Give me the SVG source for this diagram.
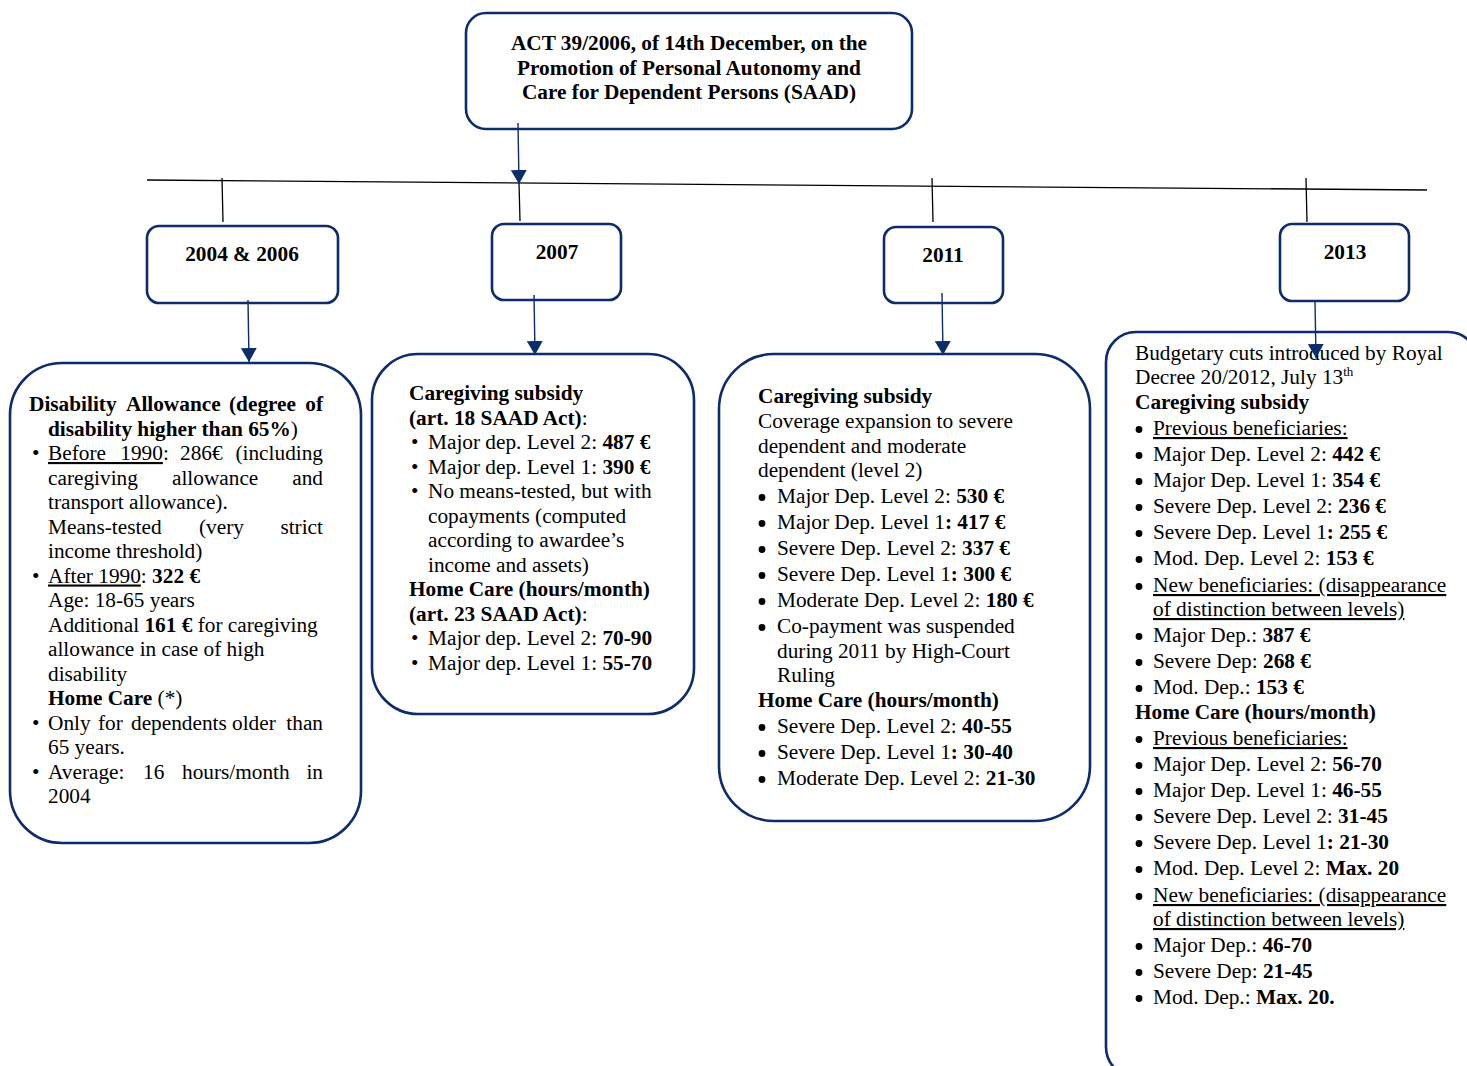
<svg xmlns="http://www.w3.org/2000/svg" width="1467" height="1066" viewBox="0 0 1467 1066">
<style>
text{font-family:"Liberation Serif","Times New Roman",serif;font-size:21.3px;fill:#000}
.b{font-weight:bold}
.c{text-anchor:middle}
.e{text-anchor:end}
.u{text-decoration:underline}
.bx{fill:#fff;stroke:#0c2c6c;stroke-width:2.6}
.tl{stroke:#000;stroke-width:1.3;fill:none}
.ar{stroke:#0c2c6c;stroke-width:1.4;fill:none;marker-end:url(#ah)}
.dot{fill:#000}
</style>
<defs>
<marker id="ah" viewBox="0 0 14 16" refX="14" refY="8" markerWidth="14" markerHeight="16" markerUnits="userSpaceOnUse" orient="auto">
<path d="M0,0 L14,8 L0,16 z" fill="#0c2c6c"/>
</marker>
</defs>

<g id="act">
<rect class="bx" x="466" y="13" width="446" height="116" rx="20"/>
<text class="b c" x="689" y="50">ACT 39/2006, of 14th December, on the</text>
<text class="b c" x="689" y="75">Promotion of Personal Autonomy and</text>
<text class="b c" x="689" y="99">Care for Dependent Persons (SAAD)</text>
</g>

<g id="y2004">
<rect class="bx" x="147" y="226" width="191" height="77" rx="12"/>
<text class="b c" x="242" y="261">2004 &amp; 2006</text>
</g>
<g id="y2007">
<rect class="bx" x="492" y="224" width="129" height="76" rx="12"/>
<text class="b c" x="557" y="259">2007</text>
</g>
<g id="y2011">
<rect class="bx" x="884" y="227" width="119" height="76" rx="12"/>
<text class="b c" x="943" y="262">2011</text>
</g>
<g id="y2013">
<rect class="bx" x="1280" y="224" width="129" height="77" rx="12"/>
<text class="b c" x="1345" y="259">2013</text>
</g>

<g id="box2004">
<rect class="bx" x="10" y="363" width="351" height="480" rx="52"/>
<text class="b" y="411"><tspan x="29">Disability</tspan><tspan x="126">Allowance</tspan><tspan x="229">(degree</tspan></text>
<text class="b e" x="323" y="411">of</text>
<text x="48" y="435.5"><tspan class="b">disability higher than 65%</tspan>)</text>
<text x="32" y="460">•</text>
<text y="460"><tspan x="48" class="u" style="word-spacing:9px">Before 1990</tspan>:<tspan x="180">286€</tspan></text>
<text class="e" x="323" y="460">(including</text>
<text y="484.5"><tspan x="48">caregiving</tspan><tspan x="172">allowance</tspan></text>
<text class="e" x="323" y="484.5">and</text>
<text x="48" y="509">transport allowance).</text>
<text y="533.5"><tspan x="48">Means-tested</tspan><tspan x="199">(very</tspan></text>
<text class="e" x="323" y="533.5">strict</text>
<text x="48" y="558">income threshold)</text>
<text x="32" y="582.5">•</text>
<text x="48" y="582.5"><tspan class="u">After 1990</tspan>: <tspan class="b">322 €</tspan></text>
<text x="48" y="607">Age: 18-65 years</text>
<text x="48" y="631.5">Additional <tspan class="b">161 €</tspan> for caregiving</text>
<text x="48" y="656">allowance in case of high</text>
<text x="48" y="680.5">disability</text>
<text x="48" y="705"><tspan class="b">Home Care</tspan> (*)</text>
<text x="32" y="729.5">•</text>
<text y="729.5"><tspan x="48">Only</tspan><tspan x="98">for</tspan><tspan x="131">dependents</tspan><tspan x="232">older</tspan></text>
<text class="e" x="323" y="729.5">than</text>
<text x="48" y="754">65 years.</text>
<text x="32" y="778.5">•</text>
<text y="778.5"><tspan x="48">Average:</tspan><tspan x="143">16</tspan><tspan x="182">hours/month</tspan></text>
<text class="e" x="323" y="778.5">in</text>
<text x="48" y="803">2004</text>
</g>

<g id="box2007">
<rect class="bx" x="372" y="354" width="322" height="360" rx="46"/>
<text class="b" x="409" y="400">Caregiving subsidy</text>
<text x="409" y="424.5"><tspan class="b">(art. 18 SAAD Act)</tspan>:</text>
<text x="411" y="449">•</text>
<text x="428" y="449">Major dep. Level 2: <tspan class="b">487 €</tspan></text>
<text x="411" y="473.5">•</text>
<text x="428" y="473.5">Major dep. Level 1: <tspan class="b">390 €</tspan></text>
<text x="411" y="498">•</text>
<text x="428" y="498">No means-tested, but with</text>
<text x="428" y="522.5">copayments (computed</text>
<text x="428" y="547">according to awardee’s</text>
<text x="428" y="571.5">income and assets)</text>
<text class="b" x="409" y="596">Home Care (hours/month)</text>
<text x="409" y="620.5"><tspan class="b">(art. 23 SAAD Act)</tspan>:</text>
<text x="411" y="645">•</text>
<text x="428" y="645">Major dep. Level 2: <tspan class="b">70-90</tspan></text>
<text x="411" y="669.5">•</text>
<text x="428" y="669.5">Major dep. Level 1: <tspan class="b">55-70</tspan></text>
</g>

<g id="box2011">
<rect class="bx" x="719" y="354" width="371" height="467" rx="55"/>
<text class="b" x="758" y="403">Caregiving subsidy</text>
<text x="758" y="428">Coverage expansion to severe</text>
<text x="758" y="453">dependent and moderate</text>
<text x="758" y="477">dependent (level 2)</text>
<g class="dot">
<circle cx="762" cy="497.5" r="3.4"/>
<circle cx="762" cy="523.5" r="3.4"/>
<circle cx="762" cy="549.5" r="3.4"/>
<circle cx="762" cy="575.5" r="3.4"/>
<circle cx="762" cy="601.5" r="3.4"/>
<circle cx="762" cy="627.5" r="3.4"/>
<circle cx="762" cy="727.5" r="3.4"/>
<circle cx="762" cy="753.5" r="3.4"/>
<circle cx="762" cy="779.5" r="3.4"/>
</g>
<text x="777" y="503">Major Dep. Level 2: <tspan class="b">530 €</tspan></text>
<text x="777" y="529">Major Dep. Level 1<tspan class="b">: 417 €</tspan></text>
<text x="777" y="555">Severe Dep. Level 2: <tspan class="b">337 €</tspan></text>
<text x="777" y="581">Severe Dep. Level 1<tspan class="b">: 300 €</tspan></text>
<text x="777" y="607">Moderate Dep. Level 2: <tspan class="b">180 €</tspan></text>
<text x="777" y="633">Co-payment was suspended</text>
<text x="777" y="658">during 2011 by High-Court</text>
<text x="777" y="682">Ruling</text>
<text class="b" x="758" y="707">Home Care (hours/month)</text>
<text x="777" y="733">Severe Dep. Level 2: <tspan class="b">40-55</tspan></text>
<text x="777" y="759">Severe Dep. Level 1<tspan class="b">: 30-40</tspan></text>
<text x="777" y="785">Moderate Dep. Level 2: <tspan class="b">21-30</tspan></text>
</g>

<g id="box2013">
<rect class="bx" x="1106" y="332" width="372" height="745" rx="30"/>
<text x="1135" y="360">Budgetary cuts introduced by Royal</text>
<text x="1135" y="384">Decree 20/2012, July 13<tspan font-size="13" dy="-8">th</tspan></text>
<text class="b" x="1135" y="409">Caregiving subsidy</text>
<g class="dot">
<circle cx="1139" cy="429.5" r="3.4"/>
<circle cx="1139" cy="455.5" r="3.4"/>
<circle cx="1139" cy="481.5" r="3.4"/>
<circle cx="1139" cy="507.5" r="3.4"/>
<circle cx="1139" cy="533.5" r="3.4"/>
<circle cx="1139" cy="559.5" r="3.4"/>
<circle cx="1139" cy="586.5" r="3.4"/>
<circle cx="1139" cy="636.5" r="3.4"/>
<circle cx="1139" cy="662.5" r="3.4"/>
<circle cx="1139" cy="688.5" r="3.4"/>
<circle cx="1139" cy="739.5" r="3.4"/>
<circle cx="1139" cy="765.5" r="3.4"/>
<circle cx="1139" cy="791.5" r="3.4"/>
<circle cx="1139" cy="817.5" r="3.4"/>
<circle cx="1139" cy="843.5" r="3.4"/>
<circle cx="1139" cy="869.5" r="3.4"/>
<circle cx="1139" cy="896.5" r="3.4"/>
<circle cx="1139" cy="946.5" r="3.4"/>
<circle cx="1139" cy="972.5" r="3.4"/>
<circle cx="1139" cy="998.5" r="3.4"/>
</g>
<text x="1153" y="435" class="u">Previous beneficiaries:</text>
<text x="1153" y="461">Major Dep. Level 2: <tspan class="b">442 €</tspan></text>
<text x="1153" y="487">Major Dep. Level 1: <tspan class="b">354 €</tspan></text>
<text x="1153" y="513">Severe Dep. Level 2: <tspan class="b">236 €</tspan></text>
<text x="1153" y="539">Severe Dep. Level 1<tspan class="b">: 255 €</tspan></text>
<text x="1153" y="565">Mod. Dep. Level 2: <tspan class="b">153 €</tspan></text>
<text x="1153" y="592" class="u">New beneficiaries: (disappearance</text>
<text x="1153" y="616" class="u">of distinction between levels)</text>
<text x="1153" y="642">Major Dep.: <tspan class="b">387 €</tspan></text>
<text x="1153" y="668">Severe Dep: <tspan class="b">268 €</tspan></text>
<text x="1153" y="694">Mod. Dep.: <tspan class="b">153 €</tspan></text>
<text class="b" x="1135" y="719">Home Care (hours/month)</text>
<text x="1153" y="745" class="u">Previous beneficiaries:</text>
<text x="1153" y="771">Major Dep. Level 2: <tspan class="b">56-70</tspan></text>
<text x="1153" y="797">Major Dep. Level 1: <tspan class="b">46-55</tspan></text>
<text x="1153" y="823">Severe Dep. Level 2: <tspan class="b">31-45</tspan></text>
<text x="1153" y="849">Severe Dep. Level 1<tspan class="b">: 21-30</tspan></text>
<text x="1153" y="875">Mod. Dep. Level 2: <tspan class="b">Max. 20</tspan></text>
<text x="1153" y="902" class="u">New beneficiaries: (disappearance</text>
<text x="1153" y="926" class="u">of distinction between levels)</text>
<text x="1153" y="952">Major Dep.: <tspan class="b">46-70</tspan></text>
<text x="1153" y="978">Severe Dep: <tspan class="b">21-45</tspan></text>
<text x="1153" y="1004">Mod. Dep.: <tspan class="b">Max. 20.</tspan></text>
</g>

<g id="connectors">
<line class="tl" x1="147" y1="180" x2="1427" y2="190"/>
<line class="tl" x1="222" y1="178" x2="223" y2="222"/>
<line class="tl" x1="519" y1="183" x2="520" y2="221"/>
<line class="tl" x1="932" y1="178" x2="933" y2="222"/>
<line class="tl" x1="1306" y1="178" x2="1307" y2="222"/>
<line class="ar" x1="518" y1="123" x2="519" y2="184"/>
<line class="ar" x1="248" y1="300" x2="249" y2="362"/>
<line class="ar" x1="534" y1="295" x2="535" y2="355"/>
<line class="ar" x1="942" y1="293" x2="943" y2="355"/>
<line class="ar" x1="1315" y1="302" x2="1316" y2="358"/>
</g>
</svg>
